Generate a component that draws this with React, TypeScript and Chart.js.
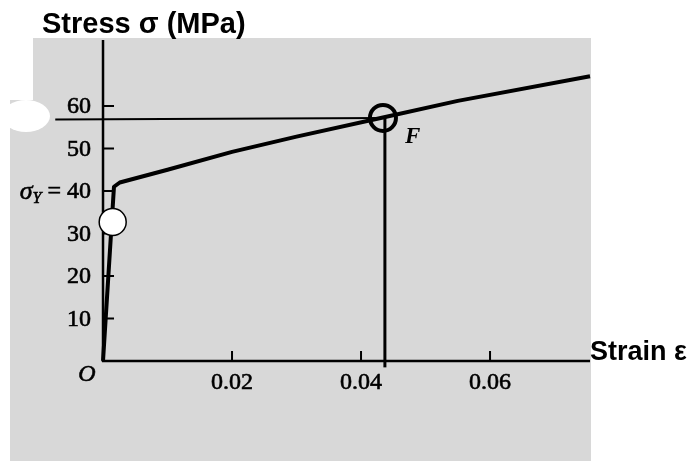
import React, { useEffect, useRef } from "react";
import { Chart, registerables } from "chart.js";

Chart.register(...registerables);

// ---- data ----
const strain = [0, 0.0017, 0.0026, 0.01, 0.02, 0.03, 0.0434, 0.055, 0.0755];
const stress = [0, 41.0, 42.0, 45.0, 49.2, 52.8, 57.3, 61.2, 67.0];

const yTicks = [10, 20, 30, 40, 50, 60];
const yTickLabels = ["10", "20", "30", " = 40", "50", "60"];
const xTicks = [0.02, 0.04, 0.06];
const xTickLabels = ["0.02", "0.04", "0.06"];

const yieldPoint = [0.0015, 32.7];
const fracturePoint = [0.0434, 57.2];
const guideLevel = 56.8; // horizontal guide stress
const guideStart = -0.0074; // strain where horizontal guide starts
const guideStrain = 0.0437; // vertical guide strain
const guideBottom = -1.5;

const axisXMax = 0.0755;
const axisYMax = 75.5;

const X_MIN = -0.01597;
const X_MAX = 0.09193;
const Y_MIN = -23.53;
const Y_MAX = 84.94;

const SERIF = "'Liberation Serif', 'DejaVu Serif', serif";
const SANS = "'Liberation Sans', Arial, sans-serif";

function heavyText(ctx: any, s: string, x: number, y: number) {
  ctx.fillText(s, x, y);
  ctx.strokeText(s, x, y);
}

const decorPlugin = {
  id: "decor",
  beforeDatasetsDraw(chart: any) {
    const { ctx } = chart;
    const xs = chart.scales.x;
    const ys = chart.scales.y;
    const px = (v: number) => xs.getPixelForValue(v);
    const py = (v: number) => ys.getPixelForValue(v);
    ctx.save();
    // background (scanned paper tone)
    ctx.fillStyle = "#ffffff";
    ctx.fillRect(0, 0, chart.width, chart.height);
    ctx.fillStyle = "rgb(216,216,216)";
    ctx.fillRect(10, 38, 581, 423);
    ctx.fillStyle = "#ffffff";
    ctx.fillRect(0, 38, 33, 62);
    ctx.beginPath();
    ctx.ellipse(26, 116, 24, 16, 0, 0, Math.PI * 2);
    ctx.fill();

    const x0 = px(0);
    const y0 = py(0);
    ctx.strokeStyle = "#000";
    ctx.lineCap = "butt";
    // axes
    ctx.lineWidth = 2.5;
    ctx.beginPath();
    ctx.moveTo(x0, py(axisYMax));
    ctx.lineTo(x0, y0 + 1);
    ctx.moveTo(x0 - 1, y0);
    ctx.lineTo(px(axisXMax), y0);
    ctx.stroke();
    // ticks
    ctx.lineWidth = 2;
    ctx.beginPath();
    yTicks.forEach((t) => {
      ctx.moveTo(x0, py(t));
      ctx.lineTo(x0 + 11, py(t));
    });
    xTicks.forEach((t) => {
      ctx.moveTo(px(t), y0);
      ctx.lineTo(px(t), y0 - 10);
    });
    ctx.stroke();

    // guides
    ctx.lineWidth = 2;
    ctx.beginPath();
    ctx.moveTo(px(guideStart), py(guideLevel));
    ctx.lineTo(px(fracturePoint[0]), py(fracturePoint[1]));
    ctx.stroke();
    ctx.lineWidth = 3;
    ctx.beginPath();
    ctx.moveTo(px(guideStrain), py(fracturePoint[1]));
    ctx.lineTo(px(guideStrain), py(guideBottom));
    ctx.stroke();

    // tick labels
    ctx.fillStyle = "#000";
    ctx.lineWidth = 0.6;
    ctx.font = `24px ${SERIF}`;
    ctx.textAlign = "right";
    ctx.textBaseline = "middle";
    const labelX = x0 - 12;
    yTicks.forEach((t, i) => {
      heavyText(ctx, yTickLabels[i], labelX, py(t) + 1);
      if (t === 40) {
        const w = ctx.measureText(yTickLabels[i]).width;
        ctx.font = `italic 16px ${SERIF}`;
        ctx.textBaseline = "alphabetic";
        const yw = ctx.measureText("Y").width;
        heavyText(ctx, "Y", labelX - w, py(t) + 12);
        ctx.font = `italic 26px ${SERIF}`;
        heavyText(ctx, "σ", labelX - w - yw, py(t) + 8);
        ctx.font = `24px ${SERIF}`;
        ctx.textBaseline = "middle";
      }
    });
    ctx.textAlign = "center";
    xTicks.forEach((t, i) => {
      heavyText(ctx, xTickLabels[i], px(t), y0 + 22);
    });
    ctx.font = `italic 24px ${SERIF}`;
    heavyText(ctx, "O", x0 - 16, y0 + 14);
    ctx.restore();
  },
  afterDatasetsDraw(chart: any) {
    const { ctx } = chart;
    const xs = chart.scales.x;
    const ys = chart.scales.y;
    const px = (v: number) => xs.getPixelForValue(v);
    const py = (v: number) => ys.getPixelForValue(v);
    ctx.save();
    ctx.fillStyle = "#000";
    ctx.textBaseline = "alphabetic";
    ctx.textAlign = "left";
    ctx.font = `bold italic 23px ${SERIF}`;
    ctx.fillText("F", px(fracturePoint[0]) + 22, py(fracturePoint[1]) + 25);
    ctx.font = `bold 29px ${SANS}`;
    ctx.fillText("Stress σ (MPa)", px(0) - 61, 33);
    ctx.font = `bold 27px ${SANS}`;
    ctx.fillText("Strain ε", px(axisXMax), py(0) - 1);
    ctx.restore();
  },
};

export default function App() {
  const ref = useRef<HTMLCanvasElement | null>(null);
  useEffect(() => {
    if (!ref.current) return;
    const chart = new Chart(ref.current, {
      type: "line",
      data: {
        datasets: [
          {
            label: "F",
            data: [{ x: fracturePoint[0], y: fracturePoint[1] }],
            showLine: false,
            pointRadius: 13,
            pointBorderWidth: 4,
            pointBorderColor: "#000",
            pointBackgroundColor: "rgba(0,0,0,0)",
            order: 0,
          },
          {
            label: "yield",
            data: [{ x: yieldPoint[0], y: yieldPoint[1] }],
            showLine: false,
            pointRadius: 13.5,
            pointBorderWidth: 1.5,
            pointBorderColor: "#000",
            pointBackgroundColor: "#fff",
            order: 1,
          },
          {
            label: "curve",
            data: strain.map((s, i) => ({ x: s, y: stress[i] })),
            borderColor: "#000",
            borderWidth: 4,
            pointRadius: 0,
            tension: 0,
            borderJoinStyle: "round",
            fill: false,
            order: 2,
          },
        ],
      },
      options: {
        animation: false,
        responsive: false,
        events: [],
        layout: { padding: 0, autoPadding: false },
        plugins: { legend: { display: false }, tooltip: { enabled: false }, title: { display: false } },
        scales: {
          x: { type: "linear", min: X_MIN, max: X_MAX, display: false },
          y: { type: "linear", min: Y_MIN, max: Y_MAX, display: false },
        },
      },
      plugins: [decorPlugin],
    } as any);
    return () => chart.destroy();
  }, []);
  return (
    <div style={{ position: "absolute", left: 0, top: 0, width: 696, height: 461, background: "#fff" }}>
      <canvas ref={ref} width={696} height={461} />
    </div>
  );
}
